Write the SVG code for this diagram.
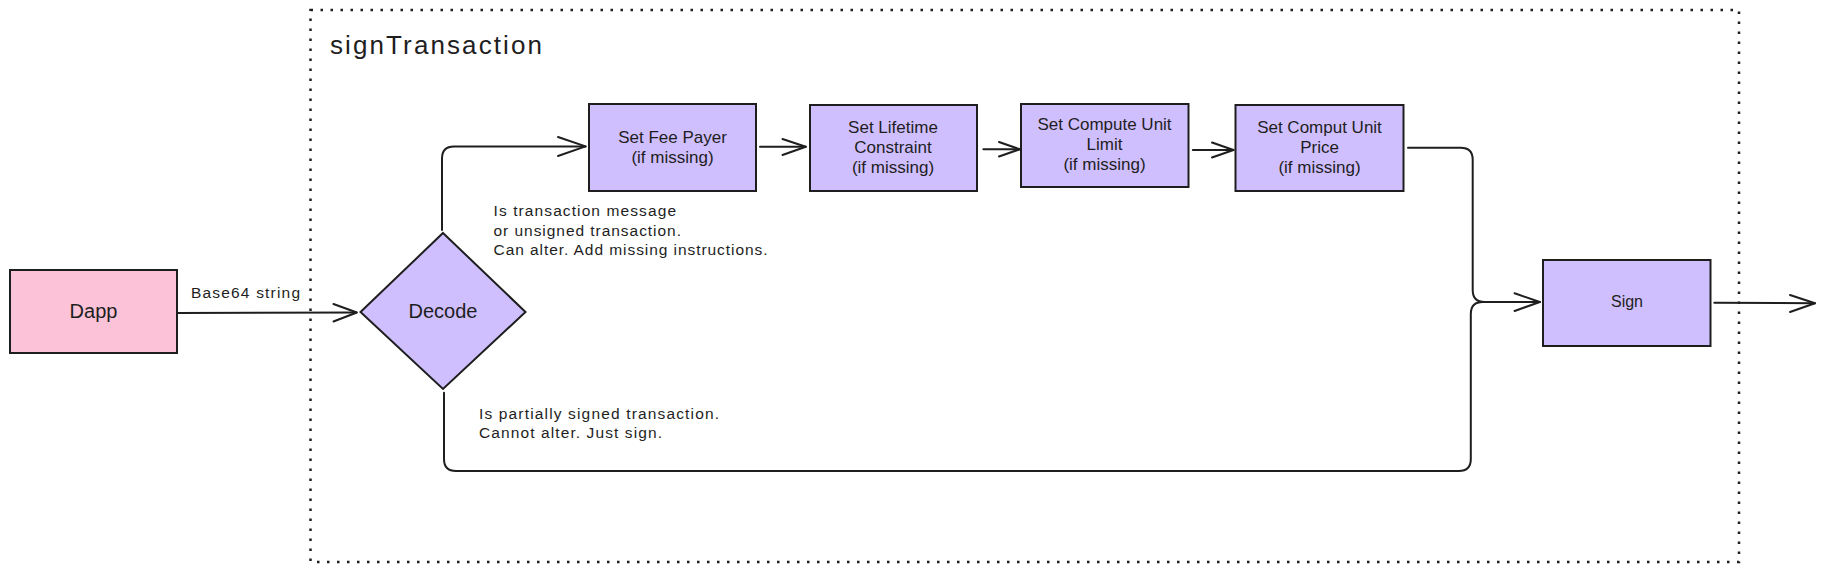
<svg xmlns="http://www.w3.org/2000/svg" width="1824" height="572" viewBox="0 0 1824 572">
<style>
.node{fill:#d0bfff;stroke:#1e1e1e;stroke-width:2}
.pink{fill:#fcc2d7;stroke:#1e1e1e;stroke-width:2}
.lbl{font-family:"Liberation Sans",Arial,sans-serif;font-size:17px;fill:#1e1e1e;text-anchor:middle}
.big{font-size:20px}
.note{font-family:"Liberation Sans",Arial,sans-serif;font-size:15.5px;fill:#1e1e1e}
.title{font-family:"Liberation Sans",Arial,sans-serif;font-size:26px;fill:#1e1e1e}
.conn path{fill:none;stroke:#1e1e1e;stroke-width:2;stroke-linecap:round;stroke-linejoin:round}
.frame{fill:none;stroke:#1e1e1e;stroke-width:2.5;stroke-dasharray:2.5 7.5}
</style>
<rect width="1824" height="572" fill="#ffffff"/>
<g id="frame">
<rect class="frame" x="310.5" y="10" width="1428.5" height="552"/>
<text class="title" x="330" y="53.5" textLength="212" lengthAdjust="spacing">signTransaction</text>
</g>
<g id="dapp">
<rect class="pink" x="10" y="270" width="167" height="83"/>
<text class="lbl big" x="93.5" y="318">Dapp</text>
</g>
<g id="decode">
<polygon class="node" points="443,233 525.5,312 443,389 360.5,312"/>
<text class="lbl big" x="443" y="318">Decode</text>
</g>
<g id="feePayer">
<rect class="node" x="589" y="104" width="167" height="87"/>
<text class="lbl" x="672.5" y="142.5">Set Fee Payer</text>
<text class="lbl" x="672.5" y="162.5">(if missing)</text>
</g>
<g id="lifetime">
<rect class="node" x="810" y="105" width="167" height="86"/>
<text class="lbl" x="893" y="132.5">Set Lifetime</text>
<text class="lbl" x="893" y="152.5">Constraint</text>
<text class="lbl" x="893" y="172.5">(if missing)</text>
</g>
<g id="computeLimit">
<rect class="node" x="1021" y="104" width="167.5" height="83"/>
<text class="lbl" x="1104.5" y="129.5">Set Compute Unit</text>
<text class="lbl" x="1104.5" y="149.5">Limit</text>
<text class="lbl" x="1104.5" y="169.5">(if missing)</text>
</g>
<g id="computePrice">
<rect class="node" x="1235.5" y="105" width="168" height="86"/>
<text class="lbl" x="1319.5" y="132.5">Set Comput Unit</text>
<text class="lbl" x="1319.5" y="152.5">Price</text>
<text class="lbl" x="1319.5" y="172.5">(if missing)</text>
</g>
<g id="sign">
<rect class="node" x="1543" y="260" width="167.5" height="86"/>
<text class="lbl" x="1627" y="307" style="font-size:16px">Sign</text>
</g>
<g id="connectors" class="conn">
<path d="M177,313 L356.5,312.5"/>
<path d="M333.5,304 L356.8,312.5 L333.5,321.5"/>
<path d="M442,230 L442,158.6 Q442,146.6 454,146.6 L585.6,146.4"/>
<path d="M558,137 L585.6,146.4 L558,156"/>
<path d="M760,146.7 L805.8,146.7"/>
<path d="M782.5,139 L805.8,146.7 L782.5,155"/>
<path d="M983.4,149.3 L1019.8,149.3"/>
<path d="M999,142 L1019.8,149.3 L999,156.5"/>
<path d="M1192.8,150 L1233.5,150"/>
<path d="M1212,142.5 L1233.5,150 L1212,157.5"/>
<path d="M1408,147.7 L1460.7,147.7 Q1472.7,147.7 1472.7,159.7 L1472.7,290 Q1472.7,302 1484.7,302 L1539.8,302"/>
<path d="M444,392.7 L444,459 Q444,471 456,471 L1458.8,471 Q1470.8,471 1470.8,459 L1470.8,314 Q1470.8,302 1482.8,302 L1539.8,302"/>
<path d="M1514.6,293.3 L1539.8,302 L1514.6,311"/>
<path d="M1714.3,302.7 L1815,303.3"/>
<path d="M1790,295 L1815,303.3 L1790,312"/>
</g>
<g id="edgeLabels">
<text class="note" x="191" y="298" textLength="109" lengthAdjust="spacing">Base64 string</text>
<text class="note" x="493.5" y="216" textLength="182.5" lengthAdjust="spacing">Is transaction message</text>
<text class="note" x="493.5" y="235.5" textLength="187.5" lengthAdjust="spacing">or unsigned transaction.</text>
<text class="note" x="493.5" y="255" textLength="274" lengthAdjust="spacing">Can alter. Add missing instructions.</text>
<text class="note" x="479" y="418.5" textLength="240" lengthAdjust="spacing">Is partially signed transaction.</text>
<text class="note" x="479" y="438" textLength="183" lengthAdjust="spacing">Cannot alter. Just sign.</text>
</g>
</svg>
